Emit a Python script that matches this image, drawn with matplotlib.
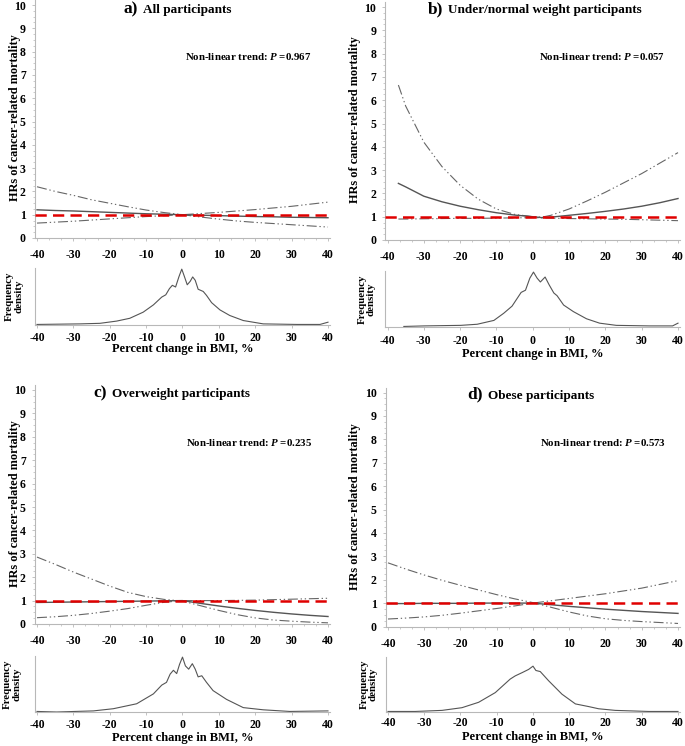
import matplotlib
matplotlib.use("Agg")
import matplotlib.pyplot as plt
from matplotlib.ticker import MultipleLocator

plt.rcParams['font.family'] = ['Liberation Serif', 'DejaVu Serif']
plt.rcParams['font.weight'] = 'bold'
plt.rcParams['mathtext.fontset'] = 'custom'
plt.rcParams['mathtext.rm'] = 'Liberation Serif:bold'
plt.rcParams['mathtext.it'] = 'Liberation Serif:italic:bold'

W, H = 685, 746

# ---------------- data ----------------
x_grid = [-40, -35, -30, -25, -20, -15, -10, -5, 0, 5, 10, 15, 20, 25, 30, 35, 40]
x_grid_b = [-37, -35, -30, -25, -20, -15, -10, -5, 0, 2.5, 5, 10, 15, 20, 25, 30, 35, 40]

a_hr = [1.21, 1.18, 1.16, 1.13, 1.10, 1.07, 1.04, 1.02, 1.00, 0.98, 0.96, 0.94, 0.92, 0.91, 0.89, 0.88, 0.87]
a_ci1 = [2.20, 2.00, 1.83, 1.64, 1.49, 1.34, 1.20, 1.09, 1.00, 0.90, 0.81, 0.73, 0.67, 0.62, 0.57, 0.52, 0.47]
a_ci2 = [0.64, 0.68, 0.72, 0.77, 0.82, 0.87, 0.92, 0.96, 1.00, 1.05, 1.10, 1.16, 1.22, 1.29, 1.36, 1.45, 1.54]

b_hr = [2.43, 2.28, 1.88, 1.64, 1.45, 1.30, 1.17, 1.07, 1.00, 0.96, 0.98, 1.06, 1.14, 1.23, 1.33, 1.45, 1.60, 1.78]
b_ci1 = [6.65, 5.75, 4.20, 3.15, 2.35, 1.75, 1.33, 1.10, 1.00, 0.98, 1.06, 1.33, 1.68, 2.05, 2.45, 2.85, 3.30, 3.75]
b_ci2 = [0.90, 0.90, 0.91, 0.92, 0.93, 0.93, 0.94, 0.95, 0.96, 0.95, 0.94, 0.92, 0.91, 0.90, 0.89, 0.87, 0.85, 0.83]

c_hr = [0.92, 0.93, 0.94, 0.95, 0.96, 0.97, 0.98, 0.99, 1.00, 0.88, 0.77, 0.67, 0.58, 0.50, 0.43, 0.37, 0.32]
c_ci1 = [2.86, 2.55, 2.22, 1.92, 1.62, 1.35, 1.17, 1.05, 0.98, 0.78, 0.58, 0.40, 0.26, 0.17, 0.12, 0.08, 0.05]
c_ci2 = [0.27, 0.31, 0.37, 0.45, 0.55, 0.66, 0.80, 0.93, 1.00, 1.00, 1.00, 1.01, 1.02, 1.04, 1.06, 1.08, 1.10]

d_hr = [0.98, 0.98, 0.99, 0.99, 0.99, 1.00, 1.00, 1.00, 1.00, 0.93, 0.86, 0.80, 0.74, 0.69, 0.64, 0.60, 0.56]
d_ci1 = [2.72, 2.45, 2.20, 1.97, 1.76, 1.56, 1.36, 1.18, 1.02, 0.82, 0.62, 0.45, 0.33, 0.26, 0.21, 0.17, 0.13]
d_ci2 = [0.32, 0.36, 0.41, 0.48, 0.57, 0.67, 0.77, 0.88, 1.00, 1.10, 1.20, 1.30, 1.40, 1.52, 1.64, 1.80, 1.96]

# frequency density (relative height)
a_dx = [-40, -28.2, -22.7, -18.1, -14.5, -10.8, -8.0, -5.7, -4.6, -3.6, -2.8, -1.9, -1.0, -0.2, 0.4, 1.3, 2.1, 2.8,
        3.5, 4.3, 5.7, 6.6, 8.0, 10.3, 13.0, 16.7, 22.2, 31.4, 37.8, 40]
a_dy = [0.01, 0.02, 0.03, 0.07, 0.12, 0.23, 0.36, 0.50, 0.54, 0.65, 0.71, 0.68, 0.86, 1.00, 0.89, 0.72, 0.78, 0.86,
        0.80, 0.64, 0.60, 0.53, 0.40, 0.27, 0.17, 0.08, 0.02, 0.01, 0.01, 0.05]

b_dx = [-35.5, -29.9, -19.8, -15.3, -10.7, -8.0, -5.7, -4.3, -3.2, -2.0, -0.8, 0.2, 1.2, 2.1, 3.4, 4.5, 5.8, 6.7,
        8.5, 11.2, 14.8, 18.4, 23.0, 32.1, 38.5, 40]
b_dy = [0.01, 0.02, 0.03, 0.05, 0.12, 0.25, 0.38, 0.52, 0.63, 0.67, 0.89, 1.00, 0.89, 0.82, 0.91, 0.77, 0.62, 0.57,
        0.40, 0.28, 0.15, 0.07, 0.03, 0.02, 0.02, 0.07]

c_dx = [-40, -34.6, -24.5, -19.0, -12.6, -8.0, -5.7, -4.4, -3.4, -2.5, -1.6, -0.8, 0.0, 0.8, 1.7, 2.7, 3.5, 4.3,
        5.3, 6.6, 8.4, 12.1, 16.7, 22.2, 29.5, 40]
c_dy = [0.01, 0.00, 0.02, 0.06, 0.15, 0.33, 0.49, 0.54, 0.69, 0.76, 0.70, 0.87, 1.00, 0.84, 0.78, 0.88, 0.78, 0.64,
        0.66, 0.54, 0.39, 0.23, 0.08, 0.04, 0.01, 0.02]

d_dx = [-40, -32.5, -25.1, -19.6, -15.0, -10.4, -6.3, -4.9, -3.0, -1.2, 0.0, 0.8, 2.0, 4.3, 8.0, 11.7, 15.4, 18.1,
        22.7, 31.9, 40]
d_dy = [0.01, 0.01, 0.03, 0.08, 0.18, 0.36, 0.61, 0.67, 0.73, 0.79, 0.85, 0.77, 0.75, 0.58, 0.33, 0.15, 0.10, 0.06,
        0.03, 0.01, 0.01]

titles_letter = ['a)', 'b)', 'c)', 'd)']
titles_text = ['All participants', 'Under/normal weight participants', 'Overweight participants', 'Obese participants']
p_values = ['0.967', '0.057', '0.235', '0.573']
x_ticks = [-40, -30, -20, -10, 0, 10, 20, 30, 40]
y_ticks = list(range(0, 11))

# ---------------- layout (pixels) ----------------
panels = [
    dict(xm40=37, x40=328, y0=238, unit=23.3, dtop=268, dbot=325, dpad=3.0,
         x=x_grid, hr=a_hr, ci1=a_ci1, ci2=a_ci2, dx=a_dx, dy=a_dy,
         title_x=138, title_y=13.5, p_x=185, p_y=60, ylab_x=15, flab_x=14, xl_y=349),
    dict(xm40=387.5, x40=678, y0=240, unit=23.3, dtop=271, dbot=327, dpad=3.5,
         x=x_grid_b, hr=b_hr, ci1=b_ci1, ci2=b_ci2, dx=b_dx, dy=b_dy,
         title_x=443, title_y=13.5, p_x=539, p_y=60, ylab_x=355, flab_x=367, xl_y=354),
    dict(xm40=37, x40=328, y0=624, unit=23.4, dtop=656, dbot=712, dpad=3.0,
         x=x_grid, hr=c_hr, ci1=c_ci1, ci2=c_ci2, dx=c_dx, dy=c_dy,
         title_x=107, title_y=397.5, p_x=186, p_y=446, ylab_x=15, flab_x=12, xl_y=738),
    dict(xm40=388, x40=678, y0=626.5, unit=23.4, dtop=657, dbot=712, dpad=1.5,
         x=x_grid, hr=d_hr, ci1=d_ci1, ci2=d_ci2, dx=d_dx, dy=d_dy,
         title_x=483, title_y=398.5, p_x=540, p_y=446, ylab_x=355, flab_x=369, xl_y=737),
]

fig = plt.figure(figsize=(W / 100, H / 100), dpi=100)
fig.patch.set_facecolor('white')

SPINE = '#b8b8b8'
XL = (-40.6, 40.6)
YL = (0, 10.2)
TICKFS = 8.5


def fx(px):
    return px / W


def fy(py):
    return 1 - py / H


def add_ax(left, right, top, bottom):
    return fig.add_axes([fx(left), fy(bottom), (right - left) / W, (bottom - top) / H])


ci_dash = (0, (9, 2.5, 1.2, 2.5, 1.2, 2.5))

for i, p in enumerate(panels):
    ppu = (p['x40'] - p['xm40']) / 80.0
    left = p['xm40'] - 0.6 * ppu
    right = p['x40'] + 0.6 * ppu
    top = p['y0'] - YL[1] * p['unit']
    ax = add_ax(left, right, top, p['y0'])
    ax.set_xlim(*XL)
    ax.set_ylim(*YL)

    ax.plot(p['x'], p['ci1'], color='#666666', lw=0.8, linestyle=ci_dash)
    ax.plot(p['x'], p['ci2'], color='#666666', lw=0.8, linestyle=ci_dash)
    ax.plot(p['x'], p['hr'], color='#555555', lw=1.0)
    ax.axhline(1, color='#e00000', lw=1.8, linestyle=(0, (4.5, 2.5)), zorder=5)

    for s in ['top', 'right']:
        ax.spines[s].set_visible(False)
    for s in ['left', 'bottom']:
        ax.spines[s].set_color(SPINE)
        ax.spines[s].set_linewidth(0.8)
    ax.set_xticks(x_ticks)
    ax.set_xticklabels([str(v) for v in x_ticks])
    ax.set_yticks(y_ticks)
    ax.set_yticklabels([str(v) for v in y_ticks])
    ax.xaxis.set_minor_locator(MultipleLocator(10 / 3))
    ax.yaxis.set_minor_locator(MultipleLocator(0.25))
    ax.tick_params(axis='both', which='major', labelsize=TICKFS, color=SPINE, length=2.5, width=0.6)
    ax.tick_params(axis='x', which='major', pad=5.5)
    ax.tick_params(axis='y', which='major', pad=4)
    ax.tick_params(axis='both', which='minor', color=SPINE, length=1.5, width=0.5)
    for lab in ax.get_xticklabels() + ax.get_yticklabels():
        lab.set_fontweight('bold')

    # density axes
    dax = add_ax(left, right, p['dtop'], p['dbot'])
    dax.set_xlim(*XL)
    dax.set_ylim(0, 1.02)
    dax.plot(p['dx'], p['dy'], color='#555555', lw=0.8)
    for s in ['top', 'right']:
        dax.spines[s].set_visible(False)
    for s in ['left', 'bottom']:
        dax.spines[s].set_color(SPINE)
        dax.spines[s].set_linewidth(0.8)
    dax.set_yticks([])
    dax.set_xticks(x_ticks)
    dax.set_xticklabels([str(v) for v in x_ticks])
    dax.tick_params(axis='x', labelsize=TICKFS, color=SPINE, length=2, width=0.6, pad=p['dpad'])
    for lab in dax.get_xticklabels():
        lab.set_fontweight('bold')

    # texts
    fig.text(fx(p['title_x']), fy(p['title_y']), titles_letter[i], ha='right', va='baseline',
             fontsize=12.5, fontweight='bold')
    fig.text(fx(p['title_x'] + 5), fy(p['title_y']), titles_text[i], ha='left', va='baseline',
             fontsize=9.5, fontweight='bold')
    fig.text(fx(p['p_x']), fy(p['p_y']), r'Non-linear trend: $\mathit{P}$ =' + p_values[i],
             ha='left', va='baseline', fontsize=7.8, fontweight='bold')
    fig.text(fx(p['ylab_x']), fy(p['y0'] - 120), 'HRs of cancer-related mortality', rotation=90,
             ha='center', va='center', fontsize=8.8, fontweight='bold')
    fig.text(fx(p['flab_x']), fy((p['dtop'] + p['dbot']) / 2), 'Frequency\ndensity', rotation=90,
             ha='center', va='center', fontsize=7.8, fontweight='bold', linespacing=1.0)
    fig.text(fx((left + right) / 2), fy(p['xl_y']), 'Percent change in BMI, %', ha='center', va='center',
             fontsize=9, fontweight='bold')

fig.savefig('out.png', dpi=100, facecolor='white')
